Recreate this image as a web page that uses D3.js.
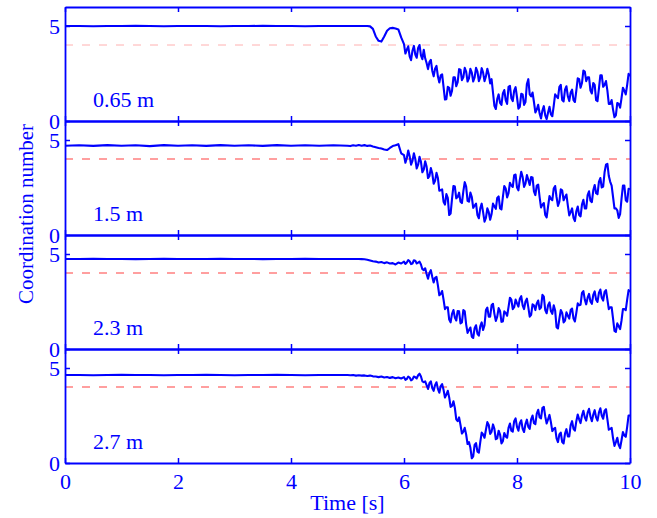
<!DOCTYPE html>
<html>
<head>
<meta charset="utf-8">
<script src="https://cdn.jsdelivr.net/npm/d3@7/dist/d3.min.js"></script>
<style>
  body { margin: 0; background: #fff; }
  svg { display: block; }
  text { font-family: "Liberation Serif", "Times New Roman", serif; fill: #0000ff; }
</style>
</head>
<body>
<svg id="chart" width="657" height="518"></svg>
<script>
// Coordination number over time at four heights in the column.
const heights = ["0.65 m", "1.5 m", "2.3 m", "2.7 m"];
const threshold = 4;
const xTicks = [0, 2, 4, 6, 8, 10];
const yTicks = [0, 5];

// Sample times: 0.25 s while at rest, 0.05 s as motion starts, 0.025 s once it flows.
const timeRest = d3.range(0, 20).map(i => i * 0.25);
const timeStart = d3.range(0, 20).map(i => 5 + i * 0.05);
const timeFlow = d3.range(0, 161).map(i => 6 + i * 0.025);
const time = timeRest.concat(timeStart, timeFlow);

// 0.65 m
const cn065 = [
  // 0 - 4.75 s
  5.0, 5.0, 4.99, 5.0, 5.0, 5.01, 5.0, 4.99, 5.0, 5.0,
  5.0, 4.99, 5.0, 5.0, 5.01, 5.0, 5.0, 4.99, 5.0, 5.0,
  // 5.00 - 5.95 s
  5.0, 5.0, 5.0, 5.0, 5.0, 5.0, 5.0, 5.0, 4.98, 4.85,
  4.45, 4.22, 4.18, 4.45, 4.75, 4.88, 4.9, 4.87, 4.82, 4.4,
  // 6.0 s onward, rows of 0.2 s
  4.05, 3.55, 3.75, 3.93, 3.4, 3.2, 3.7, 3.95,
  3.5, 3.33, 3.85, 4.0, 3.45, 3.25, 3.75, 3.3,
  3.05, 2.73, 3.1, 3.22, 2.65, 2.35, 2.75, 2.9,
  2.35, 2.03, 2.4, 2.45, 1.8, 1.13, 1.15, 1.8,
  1.75, 1.33, 1.6, 2.3, 2.3, 1.83, 2.05, 2.73,
  2.7, 2.15, 2.3, 2.8, 2.6, 2.08, 2.25, 2.75,
  2.55, 2.08, 2.3, 2.8, 2.6, 2.1, 2.3, 2.78,
  2.55, 2.1, 2.35, 2.75, 2.45, 1.98, 2.2, 1.5,
  0.8, 0.63, 1.15, 1.4, 0.95, 0.85, 1.45, 1.63,
  1.1, 0.9, 1.8, 1.85, 1.2, 1.05, 1.6, 1.78,
  1.25, 0.65, 0.75, 1.43, 1.4, 0.85, 1.0, 1.95,
  2.2, 1.4, 1.3, 1.5, 1.0, 0.45, 0.6, 0.85,
  0.4, 0.13, 0.55, 0.78, 0.3, 0.1, 0.45, 0.75,
  0.35, 0.25, 0.8, 1.4, 1.3, 1.2, 1.8, 1.9,
  1.1, 1.03, 1.65, 1.83, 1.3, 1.05, 1.5, 1.65,
  1.1, 1.0, 1.6, 2.25, 2.2, 1.75, 2.0, 2.65,
  2.6, 2.1, 2.3, 2.3, 1.6, 1.45, 2.0, 1.9,
  1.1, 1.05, 1.7, 2.4, 2.4, 1.8, 1.9, 2.1,
  1.6, 0.9, 0.9, 1.1, 0.6, 0.2, 0.3, 0.95,
  0.9, 0.7, 1.2, 1.75, 1.6, 1.4, 1.9, 2.48,
  2.35
];

// 1.5 m
const cn15 = [
  4.7, 4.72, 4.69, 4.73, 4.7, 4.72, 4.68, 4.73, 4.7, 4.72,
  4.69, 4.73, 4.7, 4.72, 4.69, 4.73, 4.7, 4.72, 4.7, 4.72,
  4.7, 4.68, 4.72, 4.7, 4.74, 4.7, 4.73, 4.69, 4.71, 4.66,
  4.62, 4.58, 4.55, 4.5, 4.47, 4.58, 4.68, 4.72, 4.78, 4.3,
  4.2, 3.8, 4.05, 4.45, 4.15, 3.7, 3.9, 4.3,
  4.0, 3.5, 3.7, 4.12, 3.85, 3.3, 3.45, 3.88,
  3.6, 3.0, 3.1, 3.52, 3.25, 2.7, 2.85, 3.27,
  3.0, 2.33, 2.35, 2.4, 1.75, 1.6, 2.15, 1.95,
  1.05, 1.13, 1.9, 2.58, 2.55, 1.93, 2.0, 2.23,
  1.75, 1.68, 2.3, 2.78, 2.55, 1.8, 1.75, 2.23,
  2.0, 1.43, 1.55, 1.65, 1.05, 0.88, 1.4, 1.65,
  1.2, 0.7, 0.9, 1.4, 1.2, 0.8, 1.1, 1.65,
  1.5, 1.38, 1.95, 2.03, 1.4, 1.35, 2.0, 2.58,
  2.45, 1.98, 2.2, 2.75, 2.6, 2.53, 3.15, 3.18,
  2.5, 2.35, 2.9, 3.33, 3.05, 2.53, 2.7, 3.15,
  2.9, 2.63, 3.05, 3.03, 2.3, 2.1, 2.6, 2.65,
  2.0, 1.45, 1.6, 1.68, 1.05, 0.93, 1.5, 2.05,
  1.9, 1.83, 2.45, 2.58, 2.0, 1.53, 1.75, 2.4,
  2.35, 1.83, 2.0, 2.13, 1.55, 1.03, 1.2, 1.4,
  0.9, 0.73, 1.25, 1.5, 1.05, 0.98, 1.6, 1.85,
  1.4, 1.4, 2.1, 2.3, 1.8, 1.73, 2.35, 2.63,
  2.2, 2.15, 2.8, 3.0, 2.5, 2.55, 3.3, 3.7,
  3.75, 3.1, 2.8, 2.6, 2.0, 1.4, 1.4, 1.3,
  0.9, 1.1, 1.9, 2.6, 2.6, 1.83, 1.75, 2.43,
  2.4
];

// 2.3 m
const cn23 = [
  4.74, 4.74, 4.75, 4.74, 4.74, 4.73, 4.74, 4.75, 4.74, 4.74,
  4.74, 4.75, 4.74, 4.74, 4.73, 4.74, 4.74, 4.75, 4.74, 4.74,
  4.74, 4.74, 4.74, 4.74, 4.74, 4.73, 4.72, 4.7, 4.66, 4.62,
  4.6, 4.55, 4.58, 4.52, 4.56, 4.5, 4.52, 4.45, 4.55, 4.5,
  4.6, 4.48, 4.55, 4.68, 4.62, 4.47, 4.5, 4.67,
  4.65, 4.5, 4.55, 4.6, 4.45, 4.2, 4.15, 4.25,
  3.95, 3.7, 4.0, 4.15, 3.8, 3.5, 3.75, 3.8,
  3.35, 2.83, 2.9, 3.05, 2.6, 2.1, 2.2, 2.2,
  1.55, 1.4, 1.85, 2.05, 1.65, 1.5, 2.0, 1.98,
  1.35, 1.4, 2.05, 1.98, 1.3, 0.85, 1.0, 1.13,
  0.65, 0.58, 1.1, 1.25, 0.8, 0.7, 1.2, 1.4,
  1.0, 1.25, 2.05, 2.18, 1.7, 1.7, 2.3, 2.38,
  1.85, 1.48, 1.7, 2.15, 2.0, 1.43, 1.45, 1.98,
  1.9, 1.75, 2.2, 2.7, 2.6, 2.1, 2.2, 2.6,
  2.4, 2.23, 2.65, 2.78, 2.3, 2.1, 2.5, 2.65,
  2.2, 1.7, 1.8, 2.35, 2.3, 2.05, 2.4, 2.55,
  2.1, 2.18, 2.85, 2.75, 2.05, 1.88, 2.3, 2.45,
  2.0, 1.85, 2.3, 2.03, 1.15, 1.08, 1.6, 2.05,
  1.9, 1.4, 1.5, 1.93, 1.75, 1.6, 2.05, 2.13,
  1.6, 1.45, 1.9, 2.4, 2.3, 2.33, 2.95, 3.05,
  2.6, 2.35, 2.7, 2.9, 2.5, 2.38, 2.85, 3.03,
  2.6, 2.48, 2.95, 3.13, 2.7, 2.55, 3.0, 3.1,
  2.6, 2.1, 2.2, 2.2, 1.6, 0.95, 0.9, 1.35,
  1.2, 1.05, 1.5, 2.1, 2.1, 2.05, 2.6, 3.1,
  3.0
];

// 2.7 m
const cn27 = [
  4.63, 4.63, 4.62, 4.63, 4.64, 4.63, 4.63, 4.62, 4.63, 4.63,
  4.64, 4.63, 4.62, 4.63, 4.63, 4.64, 4.63, 4.62, 4.63, 4.63,
  4.63, 4.62, 4.63, 4.6, 4.62, 4.6, 4.61, 4.58, 4.6, 4.56,
  4.55, 4.52, 4.55, 4.5, 4.53, 4.48, 4.52, 4.46, 4.5, 4.45,
  4.52, 4.38, 4.42, 4.55, 4.5, 4.35, 4.4, 4.55,
  4.52, 4.45, 4.62, 4.7, 4.55, 4.3, 4.25, 4.3,
  4.1, 3.9, 4.2, 4.3, 3.95, 3.8, 4.1, 4.25,
  3.9, 3.7, 4.05, 4.15, 3.85, 3.45, 3.6, 3.8,
  3.45, 2.95, 3.0, 3.25, 2.9, 2.3, 2.2, 2.4,
  2.0, 1.55, 1.65, 1.85, 1.5, 1.0, 1.1, 0.8,
  0.25, 0.35, 0.95, 1.05, 0.6, 0.55, 1.1, 1.6,
  1.5, 1.33, 1.75, 2.15, 2.0, 1.53, 1.65, 2.03,
  1.8, 1.25, 1.3, 1.7, 1.5, 1.03, 1.15, 1.58,
  1.4, 1.33, 1.85, 2.08, 1.7, 1.65, 2.2, 2.35,
  1.9, 1.7, 2.1, 2.25, 1.8, 1.63, 2.05, 2.28,
  1.9, 1.8, 2.3, 2.5, 2.1, 2.05, 2.6, 2.8,
  2.4, 2.35, 2.9, 2.95, 2.45, 2.08, 2.3, 2.53,
  2.15, 1.68, 1.8, 1.85, 1.3, 1.1, 1.5, 1.6,
  1.1, 1.03, 1.55, 1.78, 1.4, 1.4, 2.0, 2.2,
  1.8, 1.7, 2.2, 2.55, 2.3, 2.1, 2.5, 2.75,
  2.4, 2.23, 2.65, 2.85, 2.45, 2.2, 2.55, 2.78,
  2.4, 2.23, 2.65, 2.88, 2.5, 2.33, 2.75, 2.83,
  2.3, 1.75, 1.8, 1.85, 1.3, 0.9, 1.1, 1.33,
  0.95, 0.78, 1.2, 1.63, 1.45, 1.38, 1.9, 2.5,
  2.5
];

const series = [cn065, cn15, cn23, cn27];
const dashStyle = [
  { color: "#ffb0b0", width: 1 },
  { color: "#ff8080", width: 1.6 },
  { color: "#ff8080", width: 1.6 },
  { color: "#ff8080", width: 1.6 }
];

const blue = "#0000ff";
const left = 65, right = 630, top0 = 7, panelH = 114;
const svg = d3.select("#chart");

const x = d3.scaleLinear().domain([0, 10]).range([left, right]);

series.forEach((vals, i) => {
  const top = top0 + i * panelH;
  const bottom = top + panelH;
  const y = d3.scaleLinear().domain([0, 6]).range([bottom, top]);
  const g = svg.append("g");

  // threshold line
  g.append("line")
    .attr("x1", x(0)).attr("x2", x(10))
    .attr("y1", y(threshold)).attr("y2", y(threshold))
    .attr("stroke", dashStyle[i].color)
    .attr("stroke-width", dashStyle[i].width)
    .attr("stroke-dasharray", "8,9");

  // coordination number trace
  const line = d3.line()
    .x((d, k) => x(time[k]))
    .y(d => y(d));
  g.append("path")
    .datum(vals)
    .attr("d", line)
    .attr("fill", "none")
    .attr("stroke", blue)
    .attr("stroke-width", 2.1)
    .attr("stroke-linejoin", "round");

  // axes on all four sides, ticks pointing inward
  const axB = g.append("g").attr("transform", `translate(0,${bottom})`)
    .call(d3.axisBottom(x).tickValues(xTicks).tickSize(-5).tickSizeOuter(0)
      .tickPadding(10).tickFormat(i === 3 ? d3.format("d") : () => ""));
  const axT = g.append("g").attr("transform", `translate(0,${top})`)
    .call(d3.axisTop(x).tickValues(xTicks).tickSize(-5).tickSizeOuter(0).tickFormat(() => ""));
  const axL = g.append("g").attr("transform", `translate(${left},0)`)
    .call(d3.axisLeft(y).tickValues(yTicks).tickSize(-5).tickSizeOuter(0).tickPadding(5)
      .tickFormat(d3.format("d")));
  const axR = g.append("g").attr("transform", `translate(${right},0)`)
    .call(d3.axisRight(y).tickValues(yTicks).tickSize(-5).tickSizeOuter(0).tickFormat(() => ""));

  [axB, axT, axL, axR].forEach(a => {
    a.select(".domain").attr("stroke", blue).attr("stroke-width", 1.8);
    a.selectAll(".tick line").attr("stroke", blue).attr("stroke-width", 1.5);
    a.selectAll(".tick text").attr("font-size", 22)
      .attr("font-family", "'Liberation Serif', 'Times New Roman', serif")
      .attr("fill", blue);
  });

  // height label inside the panel
  g.append("text")
    .attr("x", 93).attr("y", bottom - 14)
    .attr("font-size", 22)
    .text(heights[i]);
});

svg.append("text")
  .attr("x", (left + right) / 2).attr("y", 510)
  .attr("text-anchor", "middle")
  .attr("font-size", 22)
  .text("Time [s]");

svg.append("text")
  .attr("transform", `translate(33,214) rotate(-90)`)
  .attr("text-anchor", "middle")
  .attr("font-size", 21)
  .text("Coordination number");
</script>
</body>
</html>
